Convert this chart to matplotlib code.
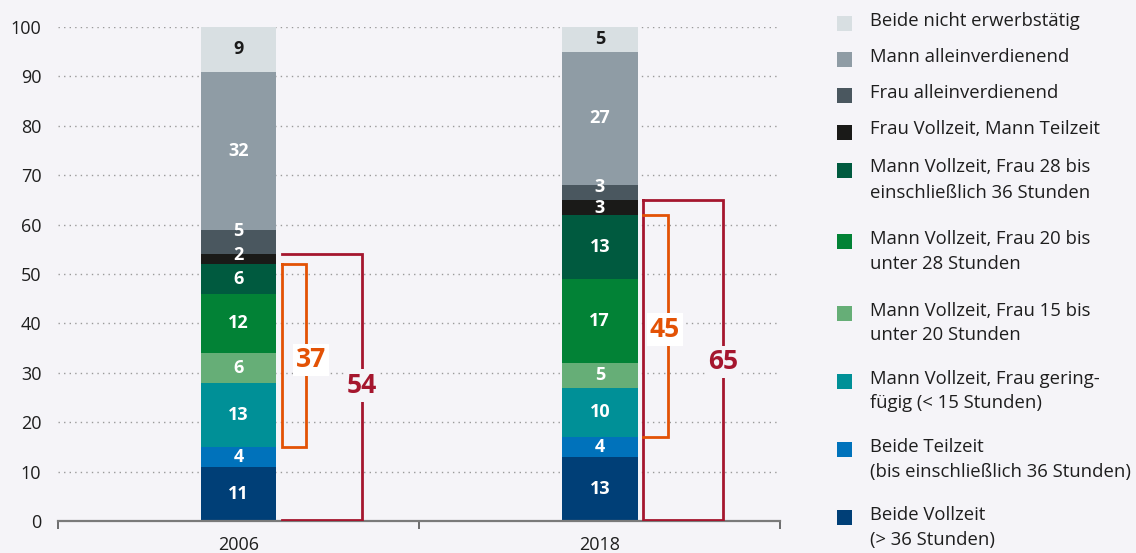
import matplotlib
matplotlib.use("Agg")
import matplotlib.pyplot as plt
from matplotlib.patches import Rectangle

plt.rcParams['font.family'] = ['Open Sans', 'DejaVu Sans']

# ---------------- data ----------------
years = ["2006", "2018"]
categories = [
    "Beide Vollzeit\n(> 36 Stunden)",
    "Beide Teilzeit\n(bis einschließlich 36 Stunden)",
    "Mann Vollzeit, Frau gering-\nfügig (< 15 Stunden)",
    "Mann Vollzeit, Frau 15 bis\nunter 20 Stunden",
    "Mann Vollzeit, Frau 20 bis\nunter 28 Stunden",
    "Mann Vollzeit, Frau 28 bis\neinschließlich 36 Stunden",
    "Frau Vollzeit, Mann Teilzeit",
    "Frau alleinverdienend",
    "Mann alleinverdienend",
    "Beide nicht erwerbstätig",
]
values_2006 = [11, 4, 13, 6, 12, 6, 2, 5, 32, 9]
values_2018 = [13, 4, 10, 5, 17, 13, 3, 3, 27, 5]
series = [values_2006, values_2018]

# bracket groups: (first category index, last category index) summed
orange_group = (2, 5)    # Mann Vollzeit, Frau Teilzeit / geringfügig
crimson_group = (0, 6)   # beide erwerbstätig
orange_totals = [37, 45]
crimson_totals = [54, 65]

yticks = [0, 10, 20, 30, 40, 50, 60, 70, 80, 90, 100]

# ---------------- style ----------------
colors = ["#003f77", "#0072bb", "#009097", "#66ae77", "#028236",
          "#005a3f", "#1a1a18", "#4a575f", "#8f9ca5", "#d8dfe2"]
label_colors = ["white"] * 9 + ["#1a1a1a"]
BG = "#f5f4f8"
ORANGE = "#e35205"
CRIMSON = "#a5162e"
TEXT = "#1e1e1e"
# small vertical nudges for the labels of thin segments (style only)
label_nudge = {(0, 7): 2.3, (0, 6): 0.8, (1, 7): 1.1, (1, 6): -0.1}

fig = plt.figure(figsize=(11.36, 5.53), dpi=100, facecolor=BG)
ax = fig.add_axes([0.051, 0.058, 0.636, 0.893], facecolor=BG)

bar_w = 0.21
for i, vals in enumerate(series):
    bottom = 0
    for j, v in enumerate(vals):
        ax.bar(i, v, width=bar_w, bottom=bottom, color=colors[j], zorder=3,
               linewidth=0)
        ax.text(i, bottom + v / 2 + label_nudge.get((i, j), 0), str(v),
                ha="center", va="center", color=label_colors[j],
                fontsize=13, fontweight="bold", zorder=4)
        bottom += v

# brackets
for i, vals in enumerate(series):
    o_lo = sum(vals[:orange_group[0]])
    o_hi = sum(vals[:orange_group[1] + 1])
    c_lo = sum(vals[:crimson_group[0]]) + 0.25
    c_hi = sum(vals[:crimson_group[1] + 1])
    xl = i + 0.12
    xo = i + 0.188
    xc = i + 0.342
    if i == 0:
        # orange: closed box, crimson: bracket open on the left
        ax.plot([xl, xo, xo, xl, xl], [o_hi, o_hi, o_lo, o_lo, o_hi],
                color=ORANGE, lw=2.0, zorder=5, solid_joinstyle="miter")
        ax.plot([xl, xc, xc, xl], [c_hi, c_hi, c_lo, c_lo],
                color=CRIMSON, lw=2.0, zorder=5, solid_joinstyle="miter")
        ax.text(i + 0.2, 32.6, str(orange_totals[i]), ha="center", va="center",
                color=ORANGE, fontsize=19, fontweight="bold", zorder=6,
                bbox=dict(facecolor="white", edgecolor="none", pad=2))
        ax.text(xc, 27.5, str(crimson_totals[i]), ha="center", va="center",
                color=CRIMSON, fontsize=19, fontweight="bold", zorder=6,
                bbox=dict(facecolor=BG, edgecolor="none", pad=2))
    else:
        # crimson: closed box, orange: bracket sharing the left edge
        ax.plot([xl, xc, xc, xl, xl], [c_hi, c_hi, c_lo, c_lo, c_hi],
                color=CRIMSON, lw=2.0, zorder=5, solid_joinstyle="miter")
        ax.plot([xl, xo, xo, xl], [o_hi, o_hi, o_lo, o_lo],
                color=ORANGE, lw=2.0, zorder=5, solid_joinstyle="miter")
        ax.text(i + 0.18, 38.7, str(orange_totals[i]), ha="center", va="center",
                color=ORANGE, fontsize=19, fontweight="bold", zorder=6,
                bbox=dict(facecolor="white", edgecolor="none", pad=2))
        ax.text(xc, 32.2, str(crimson_totals[i]), ha="center", va="center",
                color=CRIMSON, fontsize=19, fontweight="bold", zorder=6,
                bbox=dict(facecolor=BG, edgecolor="none", pad=2))

ax.set_xlim(-0.5, 1.5)
ax.set_ylim(0, 100)
ax.set_yticks(yticks)
ax.set_yticklabels([str(t) for t in yticks], fontsize=13, color=TEXT)
ax.tick_params(axis="y", length=0, pad=12)
ax.set_xticks([0, 1])
ax.set_xticklabels(years, fontsize=13, color=TEXT)
ax.set_xticks([-0.5, 0.5, 1.5], minor=True)
ax.tick_params(axis="x", which="major", length=0, pad=10.5)
ax.tick_params(axis="x", which="minor", length=6, width=1.2, color="#555555")
for s in ["top", "right", "left"]:
    ax.spines[s].set_visible(False)
ax.spines["bottom"].set_color("#7a7a7a")
ax.spines["bottom"].set_linewidth(1.6)
ax.spines["bottom"].set_zorder(4)
ax.yaxis.grid(True, color="#9a9a9a", linestyle=(0, (1, 3)), linewidth=1.0,
              zorder=0)
ax.set_axisbelow(True)

# legend (drawn manually, top to bottom)
leg_y_px = [23, 59, 95, 132, 170, 241, 313, 381, 449, 517]
W, H = 1136, 553
for k, y_px in enumerate(leg_y_px):
    j = len(categories) - 1 - k
    fig.patches.append(Rectangle((837 / W, 1 - (y_px + 7.5) / H), 15 / W, 15 / H,
                                 transform=fig.transFigure, facecolor=colors[j],
                                 edgecolor="none"))
    fig.text(870 / W, 1 - (y_px - 11.5) / H, categories[j], ha="left", va="top",
             fontsize=13.3, color=TEXT, linespacing=1.5)

fig.savefig("out.png", dpi=100, facecolor=BG)
